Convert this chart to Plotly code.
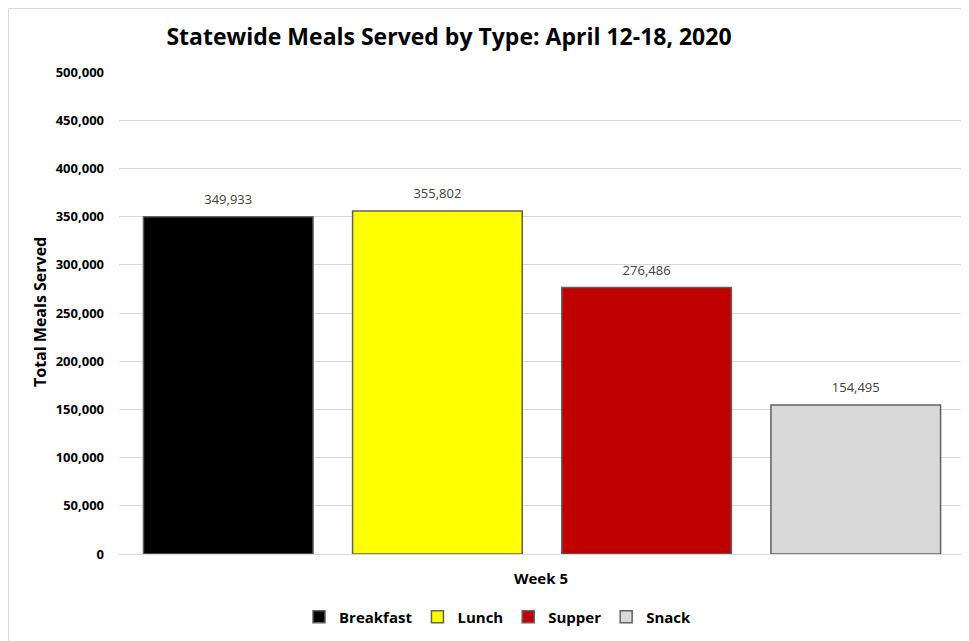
import plotly.graph_objects as go

categories = ["Week 5"]
series_names = ["Breakfast", "Lunch", "Supper", "Snack"]
series_values = [[349933], [355802], [276486], [154495]]
series_colors = ["#000000", "#ffff00", "#c00000", "#d9d9d9"]
y_ticks = [0, 50000, 100000, 150000, 200000, 250000, 300000, 350000, 400000, 450000, 500000]

FONT = "Open Sans"
# the page puts the figure 8px from the window's top-left corner
OFF = 8
L, T, PW, PH = 119 - OFF, 72 - OFF, 846, 482
W, H = 969, 641


def px_x(sx):
    return (sx - OFF - L) / PW


def px_y(sy):
    return (T + PH - (sy - OFF)) / PH


fig = go.Figure()
for name, vals, col in zip(series_names, series_values, series_colors):
    fig.add_trace(go.Bar(
        name=name, x=categories, y=vals,
        marker=dict(color=col, line=dict(color="#606060", width=1.5)),
        text=[f"<span style='font-size:13px'>{v:,}</span><br> " for v in vals],
        textposition="outside",
        textfont=dict(family=FONT, size=6, color="#404040"),
        cliponaxis=False,
        hoverinfo="skip",
    ))

fig.update_layout(
    width=W, height=H,
    margin=dict(l=L, r=W - L - PW, t=T, b=H - T - PH),
    paper_bgcolor="white", plot_bgcolor="white",
    barmode="group", bargap=0.011, bargroupgap=0.189,
    showlegend=True,
    legend=dict(orientation="h", x=px_x(498), xanchor="center", y=px_y(617), yanchor="middle",
                font=dict(family=FONT, size=15, color="#000000", weight="bold"),
                itemwidth=30, traceorder="normal"),
    title=dict(text="<b>Statewide Meals Served by Type: April 12-18, 2020</b>",
               x=(449 - OFF) / W, xanchor="center", y=1 - (37 - OFF) / H, yanchor="middle",
               font=dict(family=FONT, size=23, color="#000000")),
    font=dict(family=FONT),
)
fig.update_yaxes(range=[0, 500000], tickvals=y_ticks, tickformat=",",
                 showgrid=True, gridcolor="#d9d9d9", gridwidth=1,
                 zeroline=True, zerolinecolor="#d9d9d9", zerolinewidth=1,
                 showline=False, ticks="",
                 tickfont=dict(family=FONT, size=13, color="#000000", weight="bold"),
                 ticklabelstandoff=14)
fig.update_xaxes(showticklabels=False, showline=False, ticks="")

fig.add_annotation(text="<b>Total Meals Served</b>", xref="paper", yref="paper",
                   x=px_x(40), y=px_y(312), textangle=-90, showarrow=False,
                   xanchor="center", yanchor="middle",
                   font=dict(family=FONT, size=16, color="#000000"))
fig.add_annotation(text="<b>Week 5</b>", xref="paper", yref="paper",
                   x=px_x(541), y=px_y(578), showarrow=False,
                   xanchor="center", yanchor="middle",
                   font=dict(family=FONT, size=15, color="#000000"))
fig.add_shape(type="rect", xref="paper", yref="paper",
              x0=px_x(OFF + 0.5), x1=px_x(990), y0=px_y(660), y1=px_y(OFF + 0.5),
              line=dict(color="#d9d9d9", width=1), fillcolor="rgba(0,0,0,0)", layer="below")

fig.write_html("out.html")
